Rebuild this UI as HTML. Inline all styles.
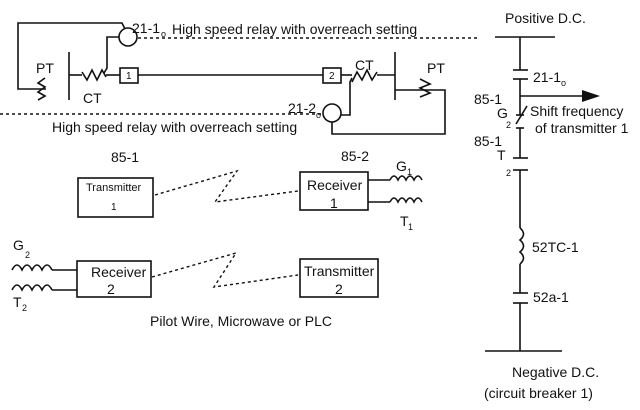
<!DOCTYPE html>
<html><head><style>
html,body{margin:0;padding:0;background:#fff;}
svg{display:block;}
text{font-family:"Liberation Sans",Arial,sans-serif;fill:#111;}
</style></head><body>
<svg width="640" height="410" viewBox="0 0 640 410" xmlns="http://www.w3.org/2000/svg">
<g stroke="#111" stroke-width="1.6" fill="none">
<polyline points="125,29 122,23 18,23 18,89 46,89"/>
<polyline points="45,78 38,83 45,87 38,92 45,96 38,100"/>
<line x1="69" y1="52" x2="69" y2="100"/>
<line x1="69" y1="75" x2="82" y2="75"/>
<polyline points="82,72 87,80 92,70 97,80 102,70 106,77"/>
<line x1="106" y1="75" x2="120" y2="75"/>
<polyline points="104,73 107,68 107,37 119,37"/>
<circle cx="128" cy="37" r="9"/>
<rect x="120" y="68" width="18" height="15"/>
<line x1="138" y1="75" x2="323" y2="75"/>
<rect x="323" y="68" width="18" height="15"/>
<line x1="341" y1="75" x2="352" y2="75"/>
<polyline points="352,82 357,72 362,80 367,70 372,80 377,72"/>
<line x1="377" y1="75" x2="395" y2="75"/>
<line x1="395" y1="52" x2="395" y2="100"/>
<polyline points="395,90 430,90"/>
<polyline points="420,79 430,84 420,88 430,93 420,97"/>
<polyline points="430,90 445,90 445,134 332,134 332,122"/>
<circle cx="332" cy="113" r="9"/>
<polyline points="341,115 350,115 350,82 352,78"/>
<line x1="495" y1="37" x2="555" y2="37"/>
<line x1="520" y1="37" x2="520" y2="70"/>
<line x1="513" y1="70" x2="528" y2="70"/>
<line x1="513" y1="79" x2="528" y2="79"/>
<line x1="520" y1="79" x2="520" y2="115"/>
<line x1="520" y1="96" x2="585" y2="96"/>
<line x1="516" y1="115" x2="524" y2="115"/>
<line x1="516" y1="128" x2="524" y2="128"/>
<line x1="516" y1="124" x2="527" y2="106"/>
<line x1="520" y1="128" x2="520" y2="158"/>
<line x1="513" y1="158" x2="528" y2="158"/>
<line x1="513" y1="170" x2="528" y2="170"/>
<line x1="520" y1="170" x2="520" y2="228"/>
<path d="M520,228 q7,6 0,12 q7,6 0,12 q7,6 0,12"/>
<line x1="520" y1="264" x2="520" y2="293"/>
<line x1="513" y1="293" x2="528" y2="293"/>
<line x1="513" y1="303" x2="528" y2="303"/>
<line x1="520" y1="303" x2="520" y2="351"/>
<line x1="485" y1="351" x2="562" y2="351"/>
<rect x="78" y="178" width="75" height="39"/>
<rect x="300" y="172" width="68" height="38"/>
<rect x="77" y="261" width="74" height="36"/>
<rect x="300" y="259" width="78" height="38"/>
<line x1="368" y1="180" x2="390" y2="180"/>
<path d="M390,180 q4,-8 8,0 q4,-8 8,0 q4,-8 8,0 q4,-8 8,0"/>
<line x1="368" y1="202" x2="390" y2="202"/>
<path d="M390,202 q4,-8 8,0 q4,-8 8,0 q4,-8 8,0 q4,-8 8,0"/>
<path d="M12,270 q5,-10 10,0 q5,-10 10,0 q5,-10 10,0 q5,-10 10,0"/>
<line x1="52" y1="270" x2="77" y2="270"/>
<path d="M12,290 q5,-10 10,0 q5,-10 10,0 q5,-10 10,0 q5,-10 10,0"/>
<line x1="52" y1="290" x2="77" y2="290"/>
</g>
<polygon points="600,96 582,90 582,102" fill="#111"/>
<g stroke="#111" stroke-width="1.4" fill="none" stroke-dasharray="3,3">
<line x1="138" y1="38" x2="480" y2="38"/>
<line x1="0" y1="114" x2="322" y2="114"/>
<polyline points="155,195 237,171 215,202 298,191"/>
<polyline points="152,277 236,253 214,287 298,275"/>
</g>
<g font-size="14">
<text x="126" y="79" font-size="10">1</text>
<text x="329" y="79" font-size="10">2</text>
<text x="132" y="33">21-1</text><text x="161" y="37" font-size="9">o</text>
<text x="172" y="34">High speed relay with overreach setting</text>
<text x="288" y="113">21-2</text><text x="316" y="118" font-size="9">o</text>
<text x="52" y="132">High speed relay with overreach setting</text>
<text x="36" y="73">PT</text>
<text x="83" y="103">CT</text>
<text x="355" y="70">CT</text>
<text x="427" y="73">PT</text>
<text x="505" y="23">Positive D.C.</text>
<text x="533" y="82">21-1</text><text x="561" y="86" font-size="9">o</text>
<text x="474" y="104">85-1</text>
<text x="497" y="118">G</text><text x="506" y="128" font-size="9">2</text>
<text x="530" y="116">Shift frequency</text>
<text x="535" y="133">of transmitter 1</text>
<text x="474" y="146">85-1</text>
<text x="497" y="160">T</text><text x="506" y="176" font-size="9">2</text>
<text x="532" y="252">52TC-1</text>
<text x="533" y="302">52a-1</text>
<text x="512" y="377">Negative D.C.</text>
<text x="484" y="398">(circuit breaker 1)</text>
<text x="111" y="162">85-1</text>
<text x="341" y="161">85-2</text>
<text x="86" y="191" font-size="11">Transmitter</text>
<text x="111" y="210" font-size="10">1</text>
<text x="307" y="190">Receiver</text>
<text x="330" y="208">1</text>
<text x="396" y="171">G</text><text x="407" y="175" font-size="9">1</text>
<text x="400" y="226">T</text><text x="408" y="230" font-size="9">1</text>
<text x="13" y="250">G</text><text x="25" y="258" font-size="9">2</text>
<text x="13" y="307">T</text><text x="22" y="311" font-size="9">2</text>
<text x="91" y="277">Receiver</text>
<text x="107" y="294">2</text>
<text x="304" y="276">Transmitter</text>
<text x="335" y="294">2</text>
<text x="150" y="326">Pilot Wire, Microwave or PLC</text>
</g>
</svg>
</body></html>
